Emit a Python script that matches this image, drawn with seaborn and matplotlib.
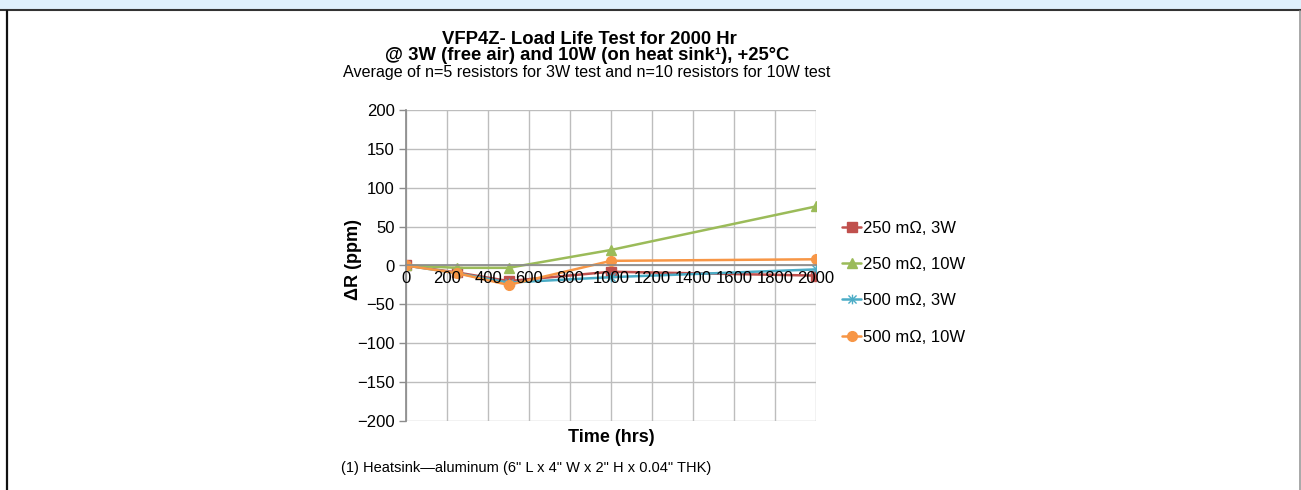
import numpy as np
import pandas as pd
import matplotlib
matplotlib.use("Agg")
import matplotlib.pyplot as plt
from matplotlib.lines import Line2D
from matplotlib.patches import Rectangle
from matplotlib.path import Path
import seaborn as sns

# ---- data ----
hours = [0, 250, 500, 1000, 2000]
r250_3w = [0, -9, -20, -8, -13]
r250_10w = [0, -3, -3, 20, 76]
r500_3w = [0, -10, -22, -15, -5]
r500_10w = [0, -10, -25, 6, 8]
series_names = ["250 m\u03a9, 3W", "250 m\u03a9, 10W", "500 m\u03a9, 3W", "500 m\u03a9, 10W"]
series_colors = ["#c0504d", "#9bbb59", "#4bacc6", "#f79646"]
x_ticks = list(range(0, 2001, 200))
y_ticks = list(range(-200, 201, 50))

star = Path([(-1, -1), (1, 1), (-1, 1), (1, -1), (0, -1.2), (0, 1.2)],
            [Path.MOVETO, Path.LINETO, Path.MOVETO, Path.LINETO, Path.MOVETO, Path.LINETO])
series_markers = ["s", "^", star, "o"]

rows = []
for name, vals in zip(series_names, [r250_3w, r250_10w, r500_3w, r500_10w]):
    for h, v in zip(hours, vals):
        rows.append({"Time": h, "dR": v, "Series": name})
df = pd.DataFrame(rows)

sns.set_theme(style="white")
plt.rcParams["font.family"] = ["Liberation Sans", "DejaVu Sans"]
plt.rcParams["text.color"] = "black"
plt.rcParams["axes.labelcolor"] = "black"
plt.rcParams["xtick.color"] = "black"
plt.rcParams["ytick.color"] = "black"

W, H = 1301, 490
fig = plt.figure(figsize=(W / 100, H / 100), dpi=100)
ax = fig.add_axes([406 / W, 1 - 421 / H, (816 - 406) / W, (421 - 110) / H])

palette = dict(zip(series_names, series_colors))
markers = dict(zip(series_names, series_markers))
sns.lineplot(data=df, x="Time", y="dR", hue="Series", style="Series",
             palette=palette, markers=markers, dashes=False,
             linewidth=1.8, markersize=7, markeredgewidth=1.0,
             ax=ax, legend=False, zorder=2)
for line in ax.lines:
    line.set_markeredgecolor(line.get_color())

ax.set_xlim(0, 2000)
ax.set_ylim(-200, 200)
ax.set_xticks(x_ticks)
ax.set_yticks(y_ticks)
ax.set_yticklabels([f"{v}".replace("-", "\u2212") for v in y_ticks])
ax.set_xticklabels([])
ax.grid(True, color="#bdbdbd", linewidth=1.0)
ax.set_axisbelow(True)
for s in ["top", "right"]:
    ax.spines[s].set_visible(False)
ax.spines["left"].set_color("#8c8c8c")
ax.spines["bottom"].set_color("#8c8c8c")
ax.spines["bottom"].set_position(("data", 0))
ax.tick_params(axis="y", which="major", left=True, length=5, width=1,
               color="#8c8c8c", labelsize=12, pad=3, labelcolor="black")
ax.tick_params(axis="x", which="major", bottom=False, length=0)

# x tick labels drawn on top of the data lines (as in the reference)
for xv in x_ticks:
    ax.annotate(str(xv), xy=(xv, 0), xycoords="data", xytext=(0, -4),
                textcoords="offset points", ha="center", va="top",
                fontsize=12, color="black", zorder=6, annotation_clip=False)

ax.set_xlabel("")
ax.set_ylabel("")
fig.text(611 / W, 1 - 438 / H, "Time (hrs)", ha="center", va="center",
         fontsize=13, fontweight="bold")
fig.text(353 / W, 1 - 259 / H, "\u0394R (ppm)", ha="center", va="center",
         rotation=90, fontsize=13, fontweight="bold")

# titles
fig.text(589 / W, 1 - 40 / H, "VFP4Z- Load Life Test for 2000 Hr", ha="center",
         va="center", fontsize=13.3, fontweight="bold")
fig.text(587 / W, 1 - 56 / H, "@ 3W (free air) and 10W (on heat sink\u00b9), +25\u00b0C",
         ha="center", va="center", fontsize=13.3, fontweight="bold")
fig.text(587 / W, 1 - 72 / H,
         "Average of n=5 resistors for 3W test and n=10 resistors for 10W test",
         ha="center", va="center", fontsize=11.6)
fig.text(341 / W, 1 - 468 / H,
         "(1) Heatsink\u2014aluminum (6\" L x 4\" W x 2\" H x 0.04\" THK)",
         ha="left", va="center", fontsize=10.5)

# legend
handles = [Line2D([0], [0], color=c, marker=m, linewidth=1.8, markersize=7,
                  markeredgecolor=c, markeredgewidth=1.0)
           for c, m in zip(series_colors, series_markers)]
leg = ax.legend(handles, series_names, loc="center left",
                bbox_to_anchor=(842 / W, 1 - 282.5 / H), bbox_transform=fig.transFigure,
                frameon=False, fontsize=12, handlelength=1.15, handletextpad=0.1,
                labelspacing=1.28, borderpad=0, borderaxespad=0)

# frame decorations
fig.add_artist(Rectangle((0, 1 - 10 / H), 1, 10 / H, transform=fig.transFigure,
                         facecolor="#dff0fc", edgecolor="none", zorder=0))
fig.add_artist(Line2D([0, 1], [1 - 10.5 / H] * 2, transform=fig.transFigure,
                      color="#333333", linewidth=1.5))
fig.add_artist(Line2D([6.5 / W] * 2, [0, 1 - 11 / H], transform=fig.transFigure,
                      color="#111111", linewidth=1.6))
fig.add_artist(Line2D([1299.5 / W] * 2, [0, 1 - 11 / H], transform=fig.transFigure,
                      color="#999999", linewidth=1.2))

fig.savefig("out.png", dpi=100)
